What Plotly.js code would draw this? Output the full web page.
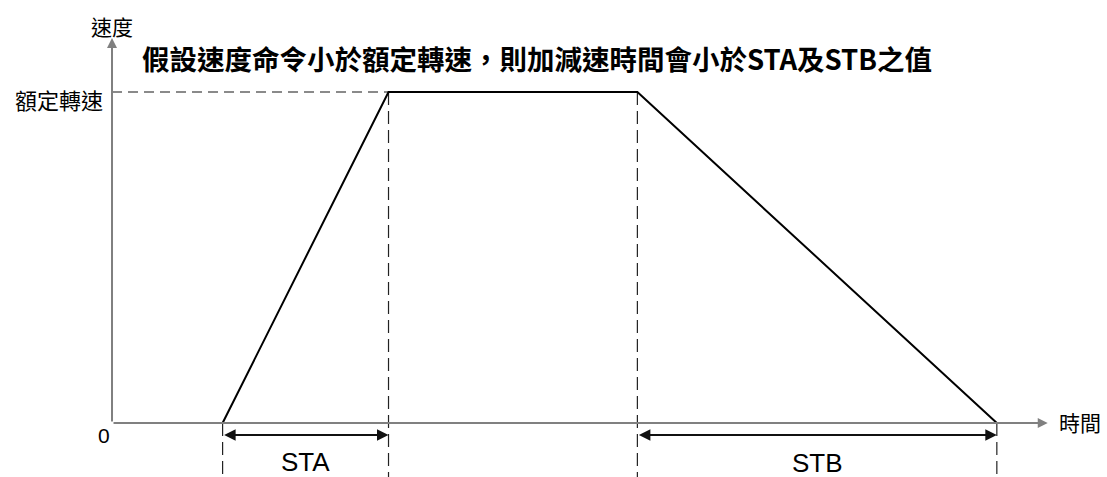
<!DOCTYPE html>
<html>
<head>
<meta charset="utf-8">
<script src="https://cdn.plot.ly/plotly-3.0.1.min.js"></script>
<style>
  html, body { margin: 0; padding: 0; background: #fff; }
  #chart { width: 1107px; height: 477px; }
</style>
</head>
<body>
<div id="chart"></div>
<script>
// speed profile: time (arbitrary units), speed (1 = rated speed)
var profileTime = [1, 2.5, 4.75, 8];
var profileSpeed = [0, 1, 1, 0];

// interval markers
var staRange = [1, 2.5];
var stbRange = [4.75, 8];

var titleText = '假設速度命令小於額定轉速，則加減速時間會小於STA及STB之值';
var yLabel = '速度';
var xLabel = '時間';
var ratedLabel = '額定轉速';

var cjk = '"Noto Sans CJK TC", "Noto Sans CJK SC", sans-serif';
var latin = '"Liberation Sans", Arial, sans-serif';
var yBottom = -0.1631;

var profile = {
  x: profileTime,
  y: profileSpeed,
  mode: 'lines',
  line: {color: '#000', width: 2},
  hoverinfo: 'skip'
};

var ratedDash = {
  x: [0, profileTime[1]],
  y: [1, 1],
  mode: 'lines',
  line: {color: '#8a8a8a', width: 2, dash: '10px,6px'},
  hoverinfo: 'skip'
};

function vDash(x, yTop) {
  return {
    x: [x, x],
    y: [yTop, yBottom],
    mode: 'lines',
    line: {color: '#222', width: 1.2, dash: '13px,6px'},
    hoverinfo: 'skip'
  };
}

var data = [
  ratedDash,
  vDash(profileTime[0], 0),
  vDash(profileTime[1], 1),
  vDash(profileTime[2], 1),
  vDash(profileTime[3], 0),
  profile
];

var axisColor = '#808080';

var annotations = [
  // y axis
  {x: 0, y: 1.163, ax: 0, ay: 0, xref: 'x', yref: 'y', axref: 'x', ayref: 'y',
   showarrow: true, arrowhead: 2, arrowsize: 1, arrowwidth: 2, arrowcolor: axisColor, text: ''},
  // x axis
  {x: 8.46, y: 0, ax: 0, ay: 0, xref: 'x', yref: 'y', axref: 'x', ayref: 'y',
   showarrow: true, arrowhead: 2, arrowsize: 1, arrowwidth: 2, arrowcolor: axisColor, text: ''},
  // STA
  {x: staRange[1], y: -0.036, ax: staRange[0], ay: -0.036, xref: 'x', yref: 'y', axref: 'x', ayref: 'y',
   showarrow: true, arrowhead: 2, arrowside: 'end+start', arrowsize: 1.15, arrowwidth: 2, arrowcolor: '#111', text: ''},
  // STB
  {x: stbRange[1], y: -0.036, ax: stbRange[0], ay: -0.036, xref: 'x', yref: 'y', axref: 'x', ayref: 'y',
   showarrow: true, arrowhead: 2, arrowside: 'end+start', arrowsize: 1.15, arrowwidth: 2, arrowcolor: '#111', text: ''},
  {x: (staRange[0] + staRange[1]) / 2, y: -0.118, text: 'STA', showarrow: false,
   font: {family: latin, size: 26, color: '#000'}},
  {x: (stbRange[0] + stbRange[1]) / 2, y: -0.12, text: 'STB', showarrow: false,
   font: {family: latin, size: 26, color: '#000'}},
  {x: 0, y: 1.199, text: yLabel, showarrow: false, font: {family: cjk, size: 21, color: '#000'}},
  {x: 8.54, y: 0.003, text: xLabel, showarrow: false, xanchor: 'left',
   font: {family: cjk, size: 21, color: '#000'}},
  {x: -0.065, y: 0.98, text: ratedLabel, showarrow: false, xanchor: 'right',
   font: {family: cjk, size: 22, color: '#000'}},
  {x: -0.072, y: -0.039, text: '0', showarrow: false,
   font: {family: latin, size: 21, color: '#000'}}
];

var hidden = {showgrid: false, zeroline: false, showticklabels: false, showline: false, ticks: '', fixedrange: true};

var layout = {
  width: 1107,
  height: 477,
  margin: {l: 0, r: 0, t: 0, b: 0},
  paper_bgcolor: '#fff',
  plot_bgcolor: '#fff',
  showlegend: false,
  title: {
    text: '<b>' + titleText + '</b>',
    x: 537 / 1107, xanchor: 'center',
    y: 1 - 60 / 477, yanchor: 'middle',
    font: {family: cjk, size: 27.5, color: '#000'}
  },
  xaxis: Object.assign({range: [-1.0127, 8.996]}, hidden),
  yaxis: Object.assign({range: [yBottom, 1.278]}, hidden),
  annotations: annotations
};

Plotly.newPlot('chart', data, layout, {displayModeBar: false, staticPlot: true});
</script>
</body>
</html>
